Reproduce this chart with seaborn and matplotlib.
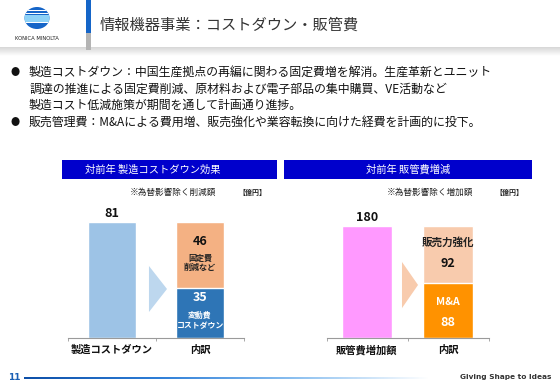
import matplotlib
matplotlib.use("Agg")
import matplotlib.pyplot as plt
import seaborn as sns
import numpy as np
from matplotlib.patches import Rectangle, Ellipse, Polygon
from matplotlib.colors import LinearSegmentedColormap

# ---------------- data ----------------
left_cats = ["製造コストダウン", "内訳"]
left_total = [81, 81]
left_fixed = 46      # 固定費削減など
left_variable = 35   # 変動費コストダウン

right_cats = ["販管費増加額", "内訳"]
right_total = [180, 180]
right_sales = 92     # 販売力強化
right_ma = 88        # M&A

title = "情報機器事業：コストダウン・販管費"
bullet_lines = [
    "製造コストダウン：中国生産拠点の再編に関わる固定費増を解消。生産革新とユニット",
    "調達の推進による固定費削減、原材料および電子部品の集中購買、VE活動など",
    "製造コスト低減施策が期間を通して計画通り進捗。",
    "販売管理費：M&Aによる費用増、販売強化や業容転換に向けた経費を計画的に投下。",
]
left_header = "対前年 製造コストダウン効果"
right_header = "対前年 販管費増減"
left_note = "※為替影響除く削減額"
right_note = "※為替影響除く増加額"
unit = "【億円】"

# ---------------- style ----------------
sns.set_theme(style="white")
plt.rcParams["font.family"] = ["Noto Sans CJK JP", "DejaVu Sans"]

W, H = 560, 388
fig = plt.figure(figsize=(W / 100, H / 100), dpi=100)
fig.patch.set_facecolor("white")

def fx(x):
    return x / W

def fy(y):
    return 1 - y / H

def rect_px(x0, y0, x1, y1):
    return [fx(x0), fy(y1), (x1 - x0) / W, (y1 - y0) / H]

# ---------------- header ----------------
ax_sh = fig.add_axes(rect_px(0, 47, 560, 56))
grad = np.linspace(0, 1, 50).reshape(-1, 1)
ax_sh.imshow(grad, aspect="auto", cmap=LinearSegmentedColormap.from_list("sh", ["#D2D2D2", "#FFFFFF"]))
ax_sh.axis("off")

fig.add_artist(Rectangle((fx(86), fy(33)), 5 / W, 33 / H, transform=fig.transFigure, color="#1565C8", lw=0))
fig.add_artist(Rectangle((fx(86), fy(50)), 5 / W, 17 / H, transform=fig.transFigure, color="#B4B4B4", lw=0))

# logo
ax_logo = fig.add_axes(rect_px(0, 0, 80, 50))
ax_logo.set_xlim(0, 80)
ax_logo.set_ylim(50, 0)
ax_logo.axis("off")
ell = Ellipse((37, 18), 25, 22, color="#1565C8", lw=0)
ax_logo.add_patch(ell)
band = Rectangle((20, 14.5), 40, 7, color="#8ED2F7", lw=0)
ax_logo.add_patch(band)
band.set_clip_path(ell)
for yy, hh in [(13.2, 1.0), (21.8, 1.0), (9.8, 0.7), (25.5, 0.7)]:
    r = Rectangle((20, yy), 40, hh, color="white", lw=0)
    ax_logo.add_patch(r)
    r.set_clip_path(ell)
ax_logo.text(37, 39, "KONICA MINOLTA", ha="center", va="center", fontsize=3.8,
             family="DejaVu Sans", color="#222222")

fig.text(fx(100), fy(25), title, fontsize=11, color="#333333", va="center", ha="left")

# ---------------- bullets ----------------
line_y = [72, 89, 105, 122]
for txt, yy in zip(bullet_lines, line_y):
    fig.text(fx(29), fy(yy), txt, fontsize=8.6, color="#111111", va="center", ha="left")
for yy in (line_y[0], line_y[3]):
    fig.text(fx(15), fy(yy), "●", fontsize=6.5, color="#111111", va="center", ha="center")

# ---------------- chart headers ----------------
fig.add_artist(Rectangle((fx(62), fy(179)), (277 - 62) / W, 19 / H, transform=fig.transFigure,
                         color="#0000CC", lw=0))
fig.add_artist(Rectangle((fx(284), fy(179)), (532 - 284) / W, 19 / H, transform=fig.transFigure,
                         color="#0000CC", lw=0))
fig.text(fx(85), fy(169.5), left_header, fontsize=7.4, color="white", va="center", ha="left")
fig.text(fx(408), fy(169.5), right_header, fontsize=7.4, color="white", va="center", ha="center")

fig.text(fx(173), fy(192), left_note, fontsize=6.2, color="#222222", va="center", ha="center")
fig.text(fx(252), fy(192), unit, fontsize=5.0, color="#222222", va="center", ha="center", weight="bold")
fig.text(fx(430), fy(192), right_note, fontsize=6.2, color="#222222", va="center", ha="center")
fig.text(fx(509), fy(192), unit, fontsize=5.0, color="#222222", va="center", ha="center", weight="bold")

# ---------------- charts ----------------
def style_axis(ax, cats):
    for s in ("top", "right", "left"):
        ax.spines[s].set_visible(False)
    ax.spines["bottom"].set_color("#9A9A9A")
    ax.spines["bottom"].set_linewidth(0.8)
    ax.set_xlim(-0.5, 1.5)
    ax.set_yticks([])
    ax.set_ylabel("")
    ax.set_xlabel("")
    ax.set_xticks([0, 1])
    ax.set_xticklabels(cats, fontsize=7.4, weight="bold", color="#111111")
    ax.set_xticks([-0.5, 0.5, 1.5], minor=True)
    ax.tick_params(axis="x", which="major", length=0, pad=5)
    ax.tick_params(axis="x", which="minor", length=2, width=0.6, color="#9A9A9A", direction="out", bottom=True)
    ax.patch.set_alpha(0)

# left chart
axL = fig.add_axes(rect_px(68, 208, 244, 338))
sns.barplot(x=left_cats, y=left_total, order=left_cats, hue=left_cats,
            palette=["#9DC3E6", "#F4B183"], saturation=1, width=0.55, legend=False, ax=axL)
sns.barplot(x=[left_cats[1]], y=[left_variable], order=left_cats, color="#2E75B6",
            saturation=1, width=0.55, ax=axL)
axL.set_ylim(0, 81 * 130 / 116)
style_axis(axL, left_cats)
axL.text(0, left_total[0] + 1.2, str(left_total[0]), ha="center", va="bottom",
         fontsize=9, weight="bold", color="#111111")
axL.text(1, left_variable + left_fixed * 0.70, str(left_fixed), ha="center", va="center",
         fontsize=9, weight="bold", color="#111111")
axL.text(1, left_variable + left_fixed * 0.38, "固定費\n削減など", ha="center", va="center",
         fontsize=5.8, weight="bold", color="#222222", linespacing=1.1)
axL.text(1, left_variable * 0.80, str(left_variable), ha="center", va="center",
         fontsize=9, weight="bold", color="white")
axL.text(1, left_variable * 0.35, "変動費\nコストダウン", ha="center", va="center",
         fontsize=5.7, weight="bold", color="white", linespacing=1.1)
axL.add_patch(Polygon([(0.46, 0.20), (0.46, 0.554), (0.5625, 0.377)], closed=True,
                      transform=axL.transAxes, color="#BDD7EE", lw=0))

# right chart
axR = fig.add_axes(rect_px(326.5, 208, 488.5, 338))
sns.barplot(x=right_cats, y=right_total, order=right_cats, hue=right_cats,
            palette=["#FF99FF", "#F8CBAD"], saturation=1, width=0.62, legend=False, ax=axR)
sns.barplot(x=[right_cats[1]], y=[right_ma], order=right_cats, color="#FF9200",
            saturation=1, width=0.62, ax=axR)
axR.set_ylim(0, 180 * 130 / 112)
style_axis(axR, right_cats)
axR.text(0, right_total[0] + 3, str(right_total[0]), ha="center", va="bottom",
         fontsize=9, weight="bold", color="#111111")
axR.text(1, right_ma + right_sales * 0.72, "販売力強化", ha="center", va="center",
         fontsize=7.6, weight="bold", color="#222222")
axR.text(1, right_ma + right_sales * 0.35, str(right_sales), ha="center", va="center",
         fontsize=9, weight="bold", color="#111111")
axR.text(1, right_ma * 0.66, "M&A", ha="center", va="center",
         fontsize=7.6, weight="bold", color="white")
axR.text(1, right_ma * 0.29, str(right_ma), ha="center", va="center",
         fontsize=9, weight="bold", color="white")
axR.add_patch(Polygon([(0.466, 0.23), (0.466, 0.585), (0.565, 0.408)], closed=True,
                      transform=axR.transAxes, color="#F8CBAD", lw=0))

# ---------------- footer ----------------
fig.text(fx(14), fy(378), "11", fontsize=6.5, color="#1A5FB4", va="center", ha="center",
         weight="bold", family="DejaVu Sans")
ax_ft = fig.add_axes(rect_px(24, 377, 430, 379.5))
g = np.linspace(0, 1, 300).reshape(1, -1)
ax_ft.imshow(g, aspect="auto",
             cmap=LinearSegmentedColormap.from_list("ft", ["#0D4FA8", "#2F7FD8", "#8CC0F0", "#FFFFFF"]))
ax_ft.axis("off")
fig.text(fx(551), fy(377), "Giving Shape to Ideas", fontsize=5.3, color="#333333",
         va="center", ha="right", family="DejaVu Sans", weight="bold")

fig.savefig("out.png", dpi=100, facecolor="white")
